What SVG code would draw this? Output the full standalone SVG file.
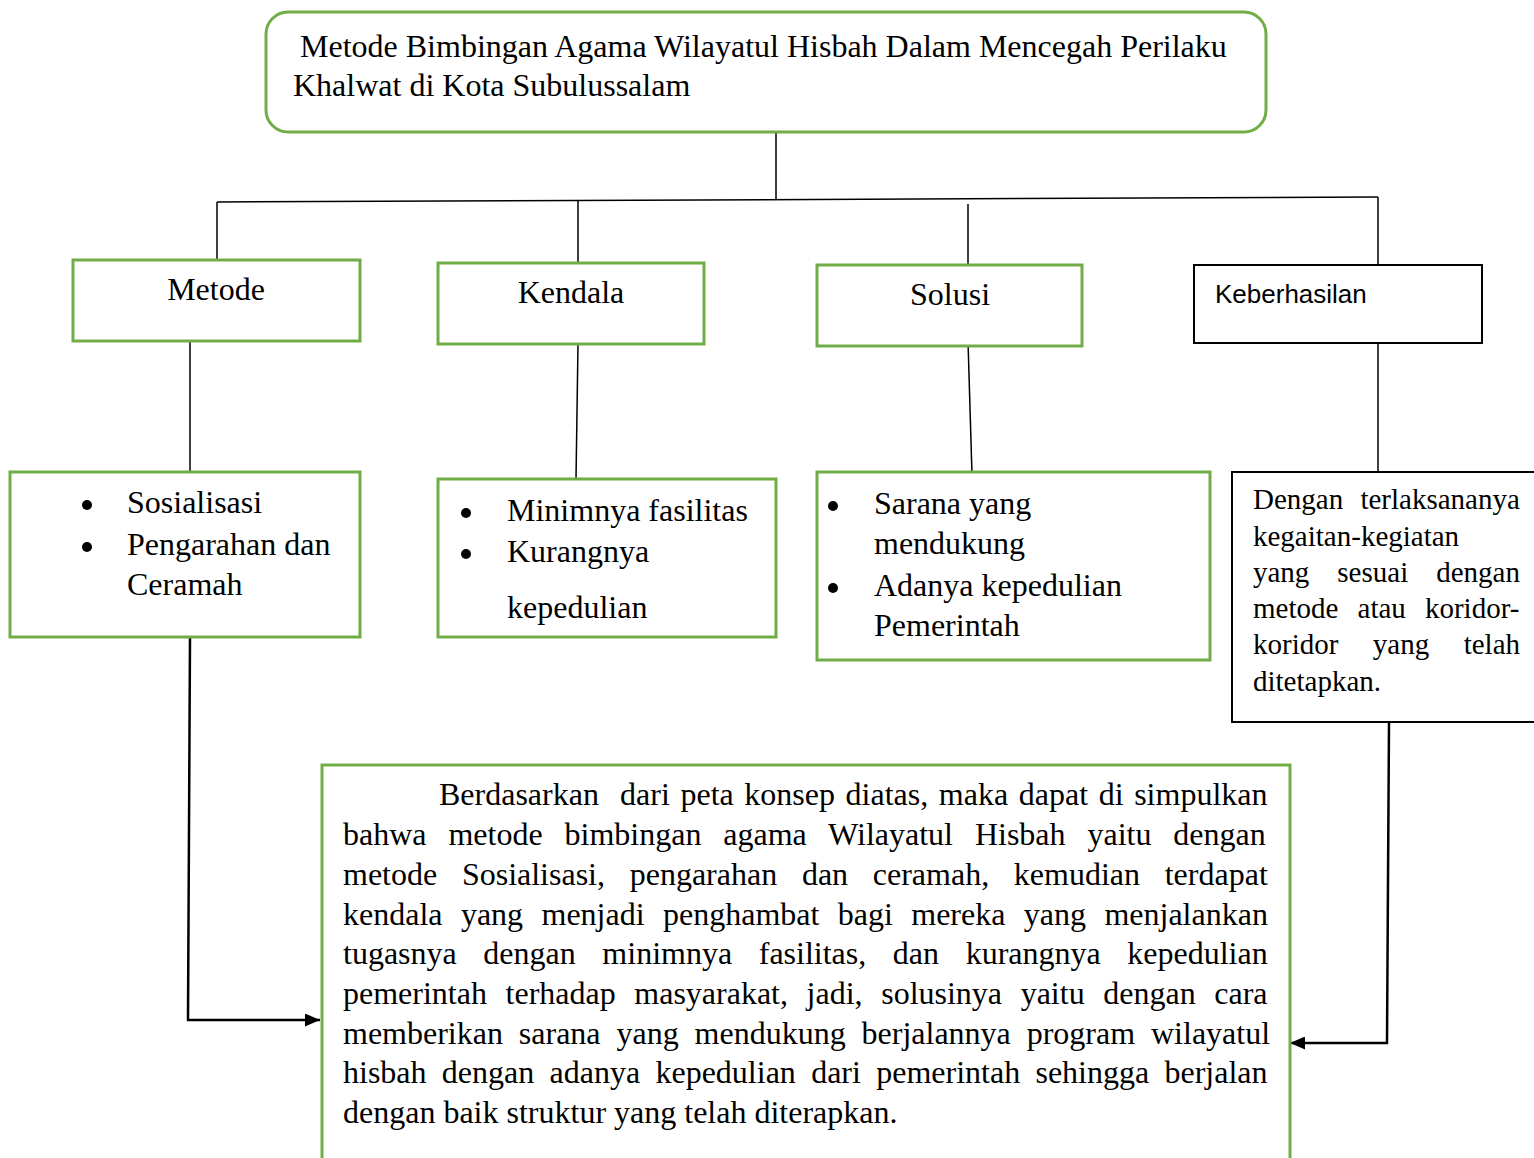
<svg xmlns="http://www.w3.org/2000/svg" width="1534" height="1158" viewBox="0 0 1534 1158">
<style>
.g{fill:#fff;stroke:#70AD47;stroke-width:3}
.k{fill:#fff;stroke:#000;stroke-width:2}
.t{font-family:"Liberation Serif","Times New Roman",serif;font-size:32px;fill:#000}
.s{font-family:"Liberation Sans",Arial,sans-serif;font-size:26px;fill:#000}
.p{font-family:"Liberation Serif","Times New Roman",serif;font-size:29px;fill:#000}
.c{fill:none;stroke:#000;stroke-width:1.5}
.a{fill:none;stroke:#000;stroke-width:2.5}
</style>
<defs>
<marker id="ah" markerWidth="15" markerHeight="13" refX="15" refY="6.5" orient="auto" markerUnits="userSpaceOnUse">
<path d="M0,0 L15,6.5 L0,13 Z" fill="#000"/>
</marker>
</defs>
<g id="connectors">
<line class="c" x1="776" y1="132" x2="776" y2="199"/>
<line class="c" x1="217" y1="202" x2="1378" y2="197"/>
<line class="c" x1="217" y1="202" x2="217" y2="259"/>
<line class="c" x1="578" y1="201" x2="578" y2="263"/>
<line class="c" x1="968" y1="204" x2="968" y2="265"/>
<line class="c" x1="1378" y1="197" x2="1378" y2="265"/>
<line class="c" x1="190" y1="339" x2="190" y2="472"/>
<line class="c" x1="578" y1="344" x2="576" y2="479"/>
<line class="c" x1="968" y1="341" x2="972" y2="475"/>
<line class="c" x1="1378" y1="341" x2="1378" y2="472"/>
<polyline class="a" points="190,637 188,1020 320,1020" marker-end="url(#ah)"/>
<polyline class="a" points="1389,722 1387,1043 1290,1043" marker-end="url(#ah)"/>
</g>
<g id="title">
<rect class="g" x="266" y="12" width="1000" height="120" rx="22"/>
<text class="t" x="300" y="57">Metode Bimbingan Agama Wilayatul Hisbah Dalam Mencegah Perilaku</text>
<text class="t" x="293" y="96">Khalwat di Kota Subulussalam</text>
</g>
<g id="metode">
<rect class="g" x="73" y="260" width="287" height="81"/>
<text class="t" x="216" y="300" text-anchor="middle">Metode</text>
</g>
<g id="kendala">
<rect class="g" x="438" y="263" width="266" height="81"/>
<text class="t" x="571" y="303" text-anchor="middle">Kendala</text>
</g>
<g id="solusi">
<rect class="g" x="817" y="265" width="265" height="81"/>
<text class="t" x="950" y="305" text-anchor="middle">Solusi</text>
</g>
<g id="keberhasilan">
<rect class="k" x="1194" y="265" width="288" height="78"/>
<text class="s" x="1215" y="303">Keberhasilan</text>
</g>
<g id="metode-list">
<rect class="g" x="10" y="472" width="350" height="165"/>
<circle cx="87" cy="505" r="5"/>
<circle cx="87" cy="547" r="5"/>
<text class="t" x="127" y="513">Sosialisasi</text>
<text class="t" x="127" y="555">Pengarahan dan</text>
<text class="t" x="127" y="595">Ceramah</text>
</g>
<g id="kendala-list">
<rect class="g" x="438" y="479" width="338" height="158"/>
<circle cx="466" cy="513" r="5"/>
<circle cx="466" cy="554" r="5"/>
<text class="t" x="507" y="521">Minimnya fasilitas</text>
<text class="t" x="507" y="562">Kurangnya</text>
<text class="t" x="507" y="618">kepedulian</text>
</g>
<g id="solusi-list">
<rect class="g" x="817" y="472" width="393" height="188"/>
<circle cx="833" cy="506" r="5"/>
<circle cx="833" cy="588" r="5"/>
<text class="t" x="874" y="514">Sarana yang</text>
<text class="t" x="874" y="554">mendukung</text>
<text class="t" x="874" y="596">Adanya kepedulian</text>
<text class="t" x="874" y="636">Pemerintah</text>
</g>
<g id="keberhasilan-text">
<rect class="k" x="1232" y="472" width="310" height="250"/>
<text class="p" x="1253" y="509" word-spacing="10">Dengan terlaksananya</text>
<text class="p" x="1253" y="546">kegaitan-kegiatan</text>
<text class="p" x="1253" y="582" word-spacing="20.7">yang sesuai dengan</text>
<text class="p" x="1253" y="618" word-spacing="11.9">metode atau koridor-</text>
<text class="p" x="1253" y="654" word-spacing="27.2">koridor yang telah</text>
<text class="p" x="1253" y="691">ditetapkan.</text>
</g>
<g id="kesimpulan">
<rect class="g" x="322" y="765" width="968" height="410"/>
<text class="t" x="439" y="805" word-spacing="2.6" xml:space="preserve">Berdasarkan  dari peta konsep diatas, maka dapat di simpulkan</text>
<text class="t" x="343" y="845" word-spacing="13.9">bahwa metode bimbingan agama Wilayatul Hisbah yaitu dengan</text>
<text class="t" x="343" y="885" word-spacing="16.7">metode Sosialisasi, pengarahan dan ceramah, kemudian terdapat</text>
<text class="t" x="343" y="925" word-spacing="10.4">kendala yang menjadi penghambat bagi mereka yang menjalankan</text>
<text class="t" x="343" y="964" word-spacing="18.6">tugasnya dengan minimnya fasilitas, dan kurangnya kepedulian</text>
<text class="t" x="343" y="1004" word-spacing="10.6">pemerintah terhadap masyarakat, jadi, solusinya yaitu dengan cara</text>
<text class="t" x="343" y="1044" word-spacing="7.9">memberikan sarana yang mendukung berjalannya program wilayatul</text>
<text class="t" x="343" y="1083" word-spacing="7.3">hisbah dengan adanya kepedulian dari pemerintah sehingga berjalan</text>
<text class="t" x="343" y="1123">dengan baik struktur yang telah diterapkan.</text>
</g>
</svg>
